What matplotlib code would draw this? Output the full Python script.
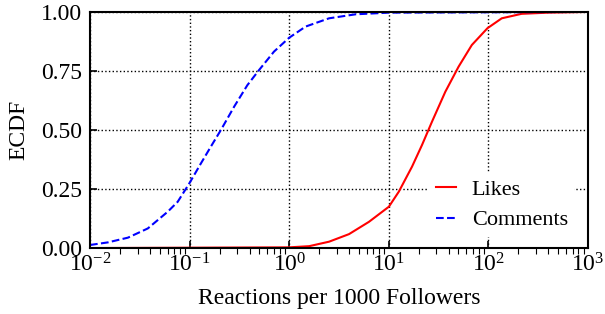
import matplotlib
matplotlib.use("Agg")
import matplotlib.pyplot as plt
from matplotlib.ticker import LogLocator

# ECDF values
likes_x = [0.01, 1.0, 1.585, 2.512, 3.981, 6.31, 10, 12.6, 17.1, 21.5, 27.1, 36.9,
           50.1, 68.1, 97.7, 136, 215, 398, 1000]
likes_y = [0.0, 0.003, 0.008, 0.027, 0.059, 0.111, 0.175, 0.239, 0.345, 0.436, 0.535,
           0.662, 0.768, 0.86, 0.931, 0.973, 0.992, 0.997, 1.0]

comments_x = [0.01, 0.0151, 0.024, 0.038, 0.0603, 0.0759, 0.0993, 0.13, 0.163, 0.206,
              0.28, 0.38, 0.498, 0.703, 1.0, 1.46, 2.51, 4.64, 10, 1000]
comments_y = [0.013, 0.024, 0.044, 0.083, 0.154, 0.196, 0.274, 0.359, 0.429, 0.5,
              0.599, 0.69, 0.754, 0.832, 0.891, 0.938, 0.973, 0.99, 0.997, 1.0]

yticks = [0.0, 0.25, 0.5, 0.75, 1.0]

plt.rcParams['font.family'] = ['Liberation Serif', 'DejaVu Serif']
plt.rcParams['mathtext.fontset'] = 'stix'

fig = plt.figure(figsize=(6.05, 3.14), dpi=100)
ax = fig.add_axes([0.1488, 0.21, 0.8232, 0.752])

ax.plot(likes_x, likes_y, color='red', lw=1.5, label='Likes')
ax.plot(comments_x, comments_y, color='blue', lw=1.5, ls='--', label='Comments')

ax.set_xscale('log')
ax.set_xlim(0.01, 1000)
ax.set_ylim(0, 1)
ax.set_yticks(yticks)
ax.set_yticklabels(['%.2f' % v for v in yticks])
ax.xaxis.set_major_locator(LogLocator(base=10, numticks=10))

ax.grid(True, which='major', color='black', ls=':', lw=1)
ax.tick_params(which='major', direction='in', length=5, width=1.2, labelsize=17)
ax.tick_params(axis='x', which='major', pad=4)
ax.tick_params(axis='y', which='major', pad=6)
ax.tick_params(which='minor', direction='out', length=4, width=0.8)
ax.tick_params(axis='y', which='minor', left=False)
for s in ax.spines.values():
    s.set_linewidth(1.5)

ax.set_xlabel('Reactions per 1000 Followers', fontsize=17, labelpad=8)
ax.set_ylabel('ECDF', fontsize=17, labelpad=8)

ax.legend(loc='lower right', fontsize=16, frameon=True, framealpha=1, edgecolor='none',
          fancybox=False, handlelength=0.9, handletextpad=0.7, labelspacing=0.45,
          borderpad=0.3, bbox_to_anchor=(0.995, 0.0))

fig.savefig('out.png', dpi=100)
